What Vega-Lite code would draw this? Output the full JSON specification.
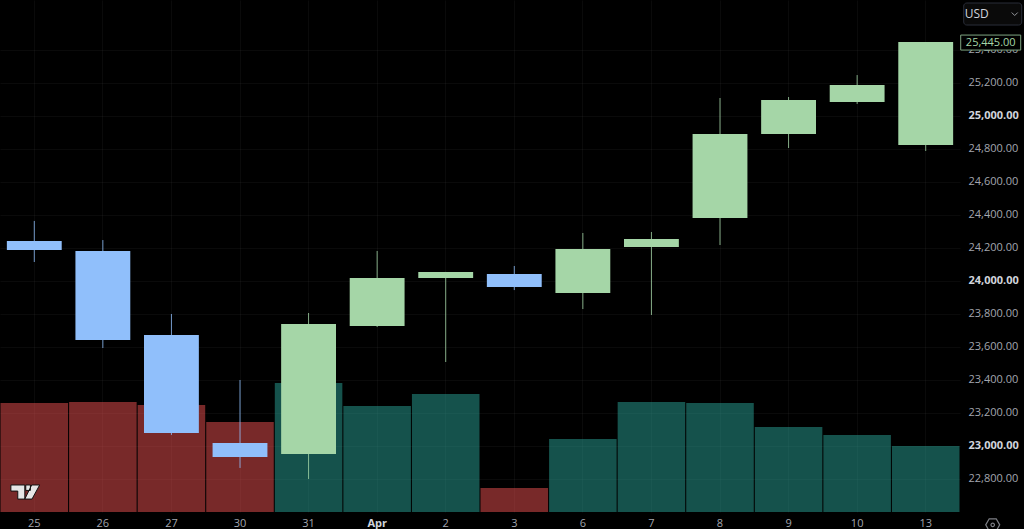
{
  "$schema": "https://vega.github.io/schema/vega-lite/v6.json",
  "width": 960,
  "height": 512,
  "autosize": "none",
  "padding": {"left": 0, "top": 0, "right": 64, "bottom": 17},
  "background": "#000000",
  "config": {
    "view": {"stroke": null},
    "text": {"font": "Open Sans"},
    "axis": {"labelFont": "Open Sans"}
  },
  "datasets": {
    "candles": [
      {"day": "25", "open": 24242, "high": 24364, "low": 24115, "close": 24188, "volume": 109, "candle": "blue", "side": "sell"},
      {"day": "26", "open": 24182, "high": 24248, "low": 23594, "close": 23642, "volume": 110, "candle": "blue", "side": "sell"},
      {"day": "27", "open": 23673, "high": 23800, "low": 23067, "close": 23079, "volume": 107, "candle": "blue", "side": "sell"},
      {"day": "30", "open": 23018, "high": 23400, "low": 22867, "close": 22933, "volume": 90, "candle": "blue", "side": "sell"},
      {"day": "31", "open": 22952, "high": 23806, "low": 22800, "close": 23739, "volume": 129, "candle": "green", "side": "buy"},
      {"day": "Apr", "open": 23727, "high": 24182, "low": 23721, "close": 24018, "volume": 106, "candle": "green", "side": "buy"},
      {"day": "2", "open": 24018, "high": 24055, "low": 23509, "close": 24055, "volume": 118, "candle": "green", "side": "buy"},
      {"day": "3", "open": 24042, "high": 24091, "low": 23945, "close": 23964, "volume": 24, "candle": "blue", "side": "sell"},
      {"day": "6", "open": 23927, "high": 24291, "low": 23830, "close": 24194, "volume": 73, "candle": "green", "side": "buy"},
      {"day": "7", "open": 24206, "high": 24297, "low": 23794, "close": 24255, "volume": 110, "candle": "green", "side": "buy"},
      {"day": "8", "open": 24382, "high": 25109, "low": 24218, "close": 24891, "volume": 109, "candle": "green", "side": "buy"},
      {"day": "9", "open": 24891, "high": 25115, "low": 24806, "close": 25097, "volume": 85, "candle": "green", "side": "buy"},
      {"day": "10", "open": 25085, "high": 25248, "low": 25073, "close": 25188, "volume": 77, "candle": "green", "side": "buy"},
      {"day": "13", "open": 24824, "high": 25448, "low": 24788, "close": 25448, "volume": 66, "candle": "green", "side": "buy"}
    ]
  },
  "encoding": {
    "x": {
      "field": "day",
      "type": "ordinal",
      "sort": null,
      "scale": {"paddingInner": 0, "paddingOuter": 0},
      "axis": {
        "title": null,
        "labelAngle": 0,
        "domain": false,
        "ticks": false,
        "grid": true,
        "gridColor": "#ffffff",
        "gridOpacity": 0.04,
        "labelPadding": 5,
        "labelFontSize": 11,
        "labelColor": {"condition": {"test": "datum.value === 'Apr'", "value": "#d1d4dc"}, "value": "#a3a6af"},
        "labelFontWeight": {"condition": {"test": "datum.value === 'Apr'", "value": "bold"}, "value": "normal"}
      }
    }
  },
  "layer": [
    {
      "data": {"name": "candles"},
      "mark": {"type": "bar", "width": {"band": 0.985}, "opacity": 0.5},
      "encoding": {
        "y": {"field": "volume", "type": "quantitative", "scale": {"domain": [0, 512]}, "axis": null},
        "color": {
          "field": "side",
          "type": "nominal",
          "scale": {"domain": ["sell", "buy"], "range": ["#f05252", "#2aa498"]},
          "legend": null
        }
      }
    },
    {
      "encoding": {
        "y": {
          "type": "quantitative",
          "scale": {"domain": [22600, 25703], "nice": false, "zero": false},
          "axis": {
            "title": null,
            "orient": "right",
            "values": [22800, 23000, 23200, 23400, 23600, 23800, 24000, 24200, 24400, 24600, 24800, 25000, 25200, 25400],
            "format": ",.2f",
            "domain": false,
            "ticks": false,
            "grid": true,
            "gridColor": "#ffffff",
            "gridOpacity": 0.04,
            "labelPadding": 8,
            "labelFontSize": 11,
            "labelColor": {"condition": {"test": "datum.value % 1000 === 0", "value": "#d1d4dc"}, "value": "#a3a6af"},
            "labelFontWeight": {"condition": {"test": "datum.value % 1000 === 0", "value": "bold"}, "value": "normal"}
          }
        },
        "color": {
          "field": "candle",
          "type": "nominal",
          "scale": {"domain": ["blue", "green"], "range": ["#90bffb", "#a5d6a7"]},
          "legend": null
        }
      },
      "layer": [
        {
          "data": {"name": "candles"},
          "mark": {"type": "rule", "size": 1, "opacity": 0.8},
          "encoding": {
            "y": {"field": "low", "type": "quantitative"},
            "y2": {"field": "high"}
          }
        },
        {
          "data": {"name": "candles"},
          "mark": {"type": "bar", "width": {"band": 0.8}},
          "encoding": {
            "y": {"field": "open", "type": "quantitative"},
            "y2": {"field": "close"}
          }
        }
      ]
    },
    {
      "data": {"values": [{"day": "13", "price": 25445, "label": "25,445.00"}]},
      "layer": [
        {
          "mark": {"type": "rect", "width": 60, "height": 15, "xOffset": 65, "fill": "#000000", "stroke": "#7fa582", "strokeWidth": 1},
          "encoding": {"y": {"field": "price", "type": "quantitative", "scale": {"domain": [22600, 25703], "nice": false, "zero": false}, "axis": null}}
        },
        {
          "mark": {"type": "text", "dx": 65, "fontSize": 11, "color": "#a5d6a7"},
          "encoding": {
            "y": {"field": "price", "type": "quantitative", "scale": {"domain": [22600, 25703], "nice": false, "zero": false}, "axis": null},
            "text": {"field": "label"}
          }
        }
      ]
    },
    {
      "data": {"values": [{"day": "13", "price": 25618, "label": "USD"}]},
      "layer": [
        {
          "mark": {"type": "rect", "width": 58, "height": 22, "xOffset": 67, "cornerRadius": 3, "fill": "#0a0a0a", "stroke": "#2a2e39", "strokeWidth": 1},
          "encoding": {"y": {"field": "price", "type": "quantitative", "scale": {"domain": [22600, 25703], "nice": false, "zero": false}, "axis": null}}
        },
        {
          "mark": {"type": "text", "dx": 51, "fontSize": 12, "color": "#d1d4dc"},
          "encoding": {
            "y": {"field": "price", "type": "quantitative", "scale": {"domain": [22600, 25703], "nice": false, "zero": false}, "axis": null},
            "text": {"field": "label"}
          }
        },
        {
          "mark": {"type": "point", "shape": "M-1,-0.5L0,0.5L1,-0.5", "size": 36, "xOffset": 89, "filled": false, "stroke": "#d1d4dc", "strokeWidth": 1},
          "encoding": {"y": {"field": "price", "type": "quantitative", "scale": {"domain": [22600, 25703], "nice": false, "zero": false}, "axis": null}}
        }
      ]
    },
    {
      "data": {"values": [{"day": "13", "price": 22522}]},
      "layer": [
        {
          "mark": {"type": "point", "shape": "M-1,0L-0.5,-0.87L0.5,-0.87L1,0L0.5,0.87L-0.5,0.87Z", "size": 196, "xOffset": 67, "filled": false, "stroke": "#b2b5be", "strokeWidth": 1.2},
          "encoding": {"y": {"field": "price", "type": "quantitative", "scale": {"domain": [22600, 25703], "nice": false, "zero": false}, "axis": null}}
        },
        {
          "mark": {"type": "point", "shape": "circle", "size": 12, "xOffset": 67, "filled": false, "stroke": "#b2b5be", "strokeWidth": 1.2},
          "encoding": {"y": {"field": "price", "type": "quantitative", "scale": {"domain": [22600, 25703], "nice": false, "zero": false}, "axis": null}}
        }
      ]
    },
    {
      "data": {"values": [{"day": "25", "price": 22721}]},
      "mark": {
        "type": "point",
        "shape": "M-0.9,-0.44L-0.03,-0.44L-0.03,0.44L-0.47,0.44L-0.47,-0.06L-0.9,-0.06ZM0.03,-0.44L0.32,-0.44L0.32,-0.1L0.03,-0.1ZM0.4,-0.44L0.9,-0.44L0.42,0.44L-0.03,0.44Z",
        "size": 1024,
        "xOffset": -9,
        "filled": true,
        "fill": "#e6e6e6",
        "stroke": "#131313",
        "strokeWidth": 1,
        "opacity": 1
      },
      "encoding": {"y": {"field": "price", "type": "quantitative", "scale": {"domain": [22600, 25703], "nice": false, "zero": false}, "axis": null}}
    }
  ],
  "resolve": {"scale": {"y": "independent", "color": "independent"}}
}
